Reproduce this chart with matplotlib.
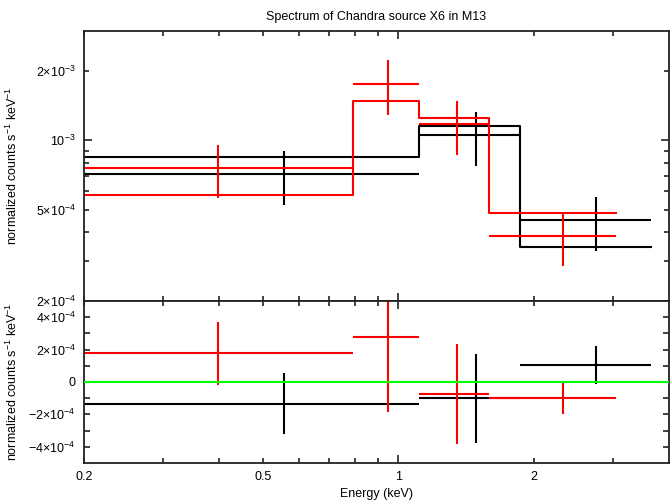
import numpy as np
import matplotlib.pyplot as plt
from matplotlib.ticker import FixedLocator, FixedFormatter

plt.rcParams['font.family'] = ['Liberation Sans', 'DejaVu Sans']
plt.rcParams['mathtext.fontset'] = 'custom'
plt.rcParams['mathtext.rm'] = 'Liberation Sans'
plt.rcParams['mathtext.it'] = 'Liberation Sans:italic'

# --- data (energies in keV, counts s^-1 keV^-1) ---
black_edges = [0.2, 1.114, 1.87, 3.65]
black_mid = [0.558, 1.488, 2.75]
black_data = [7.13e-4, 1.05e-3, 4.49e-4]
black_err = [1.88e-4, 2.75e-4, 1.19e-4]
black_model = [8.48e-4, 1.15e-3, 3.44e-4]

red_edges = [0.2, 0.792, 1.114, 1.59, 3.05]
red_mid = [0.398, 0.949, 1.35, 2.32]
red_data = [7.57e-4, 1.758e-3, 1.175e-3, 3.84e-4]
red_err = [1.95e-4, 4.68e-4, 3.08e-4, 1.0e-4]
red_model = [5.80e-4, 1.478e-3, 1.248e-3, 4.84e-4]

xtick_minor = [0.2, 0.3, 0.4, 0.5, 0.6, 0.7, 0.8, 0.9, 2, 3]
xtick_minor_labels = ['0.2', '', '', '0.5', '', '', '', '', '2', '']
ytop_minor = [2e-4, 3e-4, 4e-4, 5e-4, 6e-4, 7e-4, 8e-4, 9e-4, 2e-3]
ytop_minor_labels = [r'$2{\times}10^{-4}$', '', '', r'$5{\times}10^{-4}$',
                     '', '', '', '', r'$2{\times}10^{-3}$']
ybot_major = [-4e-4, -2e-4, 0, 2e-4, 4e-4]
ybot_labels = [r'$-4{\times}10^{-4}$', r'$-2{\times}10^{-4}$', '0',
               r'$2{\times}10^{-4}$', r'$4{\times}10^{-4}$']
ybot_minor = [-3e-4, -1e-4, 1e-4, 3e-4]

LW = 1.5
BLACK = 'black'
RED = '#ff0000'


def draw_set(ax, edges, mid, vals, err, color, model=None):
    edges = np.array(edges)
    mid = np.array(mid)
    xerr = [mid - edges[:-1], edges[1:] - mid]
    if model is not None:
        ax.plot(edges, list(model) + [model[-1]], drawstyle='steps-post',
                color=color, lw=LW)
    ax.errorbar(mid, vals, xerr=xerr, yerr=err, fmt='none',
                ecolor=color, elinewidth=LW, capsize=0)


fig = plt.figure(figsize=(6.7, 5), dpi=100)
ax1 = fig.add_axes([0.1254, 0.398, 0.873, 0.5406])
ax2 = fig.add_axes([0.1254, 0.074, 0.873, 0.324], sharex=ax1)

# --- top panel: data + folded model ---
draw_set(ax1, black_edges, black_mid, black_data, black_err, BLACK, black_model)
draw_set(ax1, red_edges, red_mid, red_data, red_err, RED, red_model)
ax1.set_xscale('log')
ax1.set_yscale('log')
ax1.set_xlim(0.2, 4.0)
ax1.set_ylim(2e-4, 3e-3)

# --- bottom panel: residuals (data - model) ---
black_res = np.array(black_data) - np.array(black_model)
red_res = np.array(red_data) - np.array(red_model)
draw_set(ax2, black_edges, black_mid, black_res, black_err, BLACK)
draw_set(ax2, red_edges, red_mid, red_res, red_err, RED)
ax2.axhline(0, color='#00ff00', lw=LW, zorder=5)
ax2.set_ylim(-5e-4, 5e-4)

# ticks
for ax in (ax1, ax2):
    ax.xaxis.set_major_locator(FixedLocator([1]))
    ax.xaxis.set_major_formatter(FixedFormatter(['1']))
    ax.xaxis.set_minor_locator(FixedLocator(xtick_minor))
    ax.xaxis.set_minor_formatter(FixedFormatter(xtick_minor_labels))
    ax.tick_params(which='both', direction='in', top=True, right=True,
                   labelsize=9, width=1.2, color='#222222')
    ax.tick_params(which='major', length=6, pad=6)
    ax.tick_params(which='minor', length=3.5, pad=6)
    for s in ax.spines.values():
        s.set_linewidth(1.3)
        s.set_color('#222222')

ax1.yaxis.set_major_locator(FixedLocator([1e-3]))
ax1.yaxis.set_major_formatter(FixedFormatter([r'$10^{-3}$']))
ax1.yaxis.set_minor_locator(FixedLocator(ytop_minor))
ax1.yaxis.set_minor_formatter(FixedFormatter(ytop_minor_labels))
ax1.tick_params(which='both', labelbottom=False)

ax2.yaxis.set_major_locator(FixedLocator(ybot_major))
ax2.yaxis.set_major_formatter(FixedFormatter(ybot_labels))
ax2.yaxis.set_minor_locator(FixedLocator(ybot_minor))
ax2.tick_params(axis='y', which='both', length=4.5)

ylab = r'normalized counts s$^{-1}$ keV$^{-1}$'
ax1.set_ylabel(ylab, fontsize=9)
ax2.set_ylabel(ylab, fontsize=9)
ax1.yaxis.set_label_coords(-0.109, 0.5)
ax2.yaxis.set_label_coords(-0.109, 0.5)
ax2.set_xlabel('Energy (keV)', fontsize=9, labelpad=3)
ax1.set_title('Spectrum of Chandra source X6 in M13', fontsize=9, pad=8)

fig.savefig('out.png', dpi=100)
